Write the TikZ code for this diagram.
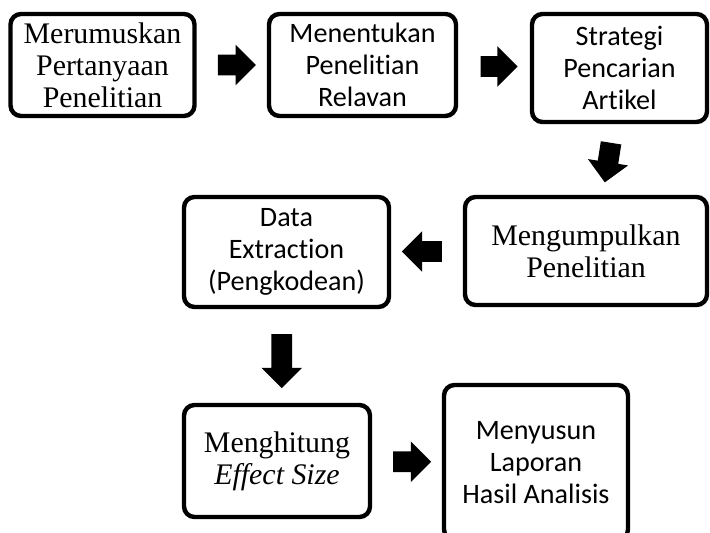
\documentclass[tikz,border=0pt]{standalone}
\usepackage{fontspec}
\setmainfont{Liberation Serif}
\newfontfamily\calibri[Ligatures=NoCommon]{Carlito}
\usetikzlibrary{calc, positioning, shapes.arrows, shadows}
\tikzset{>=latex}
\tikzset{step-box/.style = {draw, line width=2.5pt, rounded corners=6pt, fill=white,
  align=center, inner sep=1pt,
  drop shadow={shadow xshift=0pt, shadow yshift=-0.8pt, fill=black, opacity=0.8}}}
\tikzset{serif-text/.style = {font=\fontsize{17}{18.2}\selectfont}}
\tikzset{sans-text/.style = {font=\calibri\fontsize{16}{18.2}\selectfont}}
\tikzset{block-arrow/.style = {single arrow, fill=black, inner xsep=0pt, inner ysep=0.2cm,
  single arrow head extend=0.2cm, minimum height=#1}, block-arrow/.default=0.76cm}

\begin{document}
\begin{tikzpicture}
  \useasboundingbox (0,0) rectangle (14.2,-10.66);
  \path (2.05,-1.30) node[step-box, serif-text, minimum width=3.68cm, minimum height=2.04cm]
        (merumuskan) {Merumuskan\\Pertanyaan\\Penelitian}
      ++(5.20,0) node[step-box, sans-text, minimum width=3.74cm, minimum height=2.04cm]
        (menentukan) {Menentukan\\Penelitian\\Relavan}
      ++(5.14,-0.06) node[step-box, sans-text, minimum width=3.50cm, minimum height=2.16cm]
        (strategi) {Strategi\\Pencarian\\Artikel}
      ++(-0.67,-3.66) node[step-box, serif-text, minimum width=4.84cm, minimum height=2.16cm]
        (mengumpulkan) {Mengumpulkan\\Penelitian}
      ++(-5.99,-0.02) node[step-box, sans-text, minimum width=4.10cm, minimum height=2.20cm]
        (extraction) {Data\\Extraction\\(Pengkodean)}
      ++(-0.19,-4.18) node[step-box, serif-text, minimum width=3.72cm, minimum height=2.24cm]
        (menghitung) {Menghitung\\\textit{Effect Size}}
      ++(5.18,-0.03) node[step-box, sans-text, minimum width=3.68cm, minimum height=3.10cm]
        (menyusun) {Menyusun\\Laporan\\Hasil Analisis};

  \foreach \i/\o/\a/\l/\n in
  {merumuskan.east/menentukan.west/0/0.76cm/a,
   menentukan.east/strategi.west/0/0.74cm/b,
   mengumpulkan.west/extraction.east/180/0.80cm/d,
   extraction.south/menghitung.north/-90/1.08cm/e,
   menghitung.east/menyusun.west/0/0.76cm/f}
  {
    \node[block-arrow=\l, rotate=\a] (arrow-\n) at ($(\i)!0.5!(\o)$) {};
  }
  \node[block-arrow=0.80cm, rotate=-99] (arrow-c)
    at ($(strategi.south)!0.5!(mengumpulkan.north)+(0.12,0.04)$) {};
\end{tikzpicture}
\end{document}
